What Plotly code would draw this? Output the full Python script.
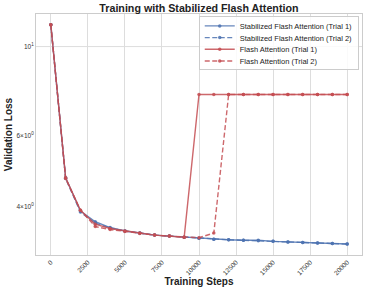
import plotly.graph_objects as go

steps = [0, 1000, 2000, 3000, 4000, 5000, 6000, 7000, 8000, 9000, 10000,
         11000, 12000, 13000, 14000, 15000, 16000, 17000, 18000, 19000, 20000]
stab_t1 = [11.33, 4.72, 3.90, 3.67, 3.55, 3.48, 3.44, 3.40, 3.38, 3.36, 3.34,
           3.32, 3.31, 3.30, 3.30, 3.28, 3.27, 3.26, 3.25, 3.24, 3.23]
stab_t2 = [11.33, 4.70, 3.88, 3.64, 3.54, 3.48, 3.44, 3.40, 3.38, 3.36, 3.34,
           3.32, 3.31, 3.30, 3.29, 3.28, 3.27, 3.26, 3.25, 3.24, 3.23]
flash_t1 = [11.33, 4.72, 3.92, 3.62, 3.53, 3.48, 3.44, 3.40, 3.38, 3.36, 7.6,
            7.6, 7.6, 7.6, 7.6, 7.6, 7.6, 7.6, 7.6, 7.6, 7.6]
flash_t2 = [11.33, 4.70, 3.92, 3.57, 3.51, 3.47, 3.43, 3.40, 3.38, 3.36, 3.35,
            3.44, 7.6, 7.6, 7.6, 7.6, 7.6, 7.6, 7.6, 7.6, 7.6]

x_ticks = [0, 2500, 5000, 7500, 10000, 12500, 15000, 17500, 20000]
x_tick_text = [str(v) for v in x_ticks]
y_ticks = [4, 6, 10]
y_tick_text = ["4×10<sup>0</sup>", "6×10<sup>0</sup>", "10<sup>1</sup>"]

BLUE = "rgba(76,114,176,0.85)"
RED = "rgba(196,78,82,0.85)"
DASHED = "5px,2.5px"

series = [
    ("Stabilized Flash Attention (Trial 1)", stab_t1, BLUE, "solid"),
    ("Stabilized Flash Attention (Trial 2)", stab_t2, BLUE, DASHED),
    ("Flash Attention (Trial 1)", flash_t1, RED, "solid"),
    ("Flash Attention (Trial 2)", flash_t2, RED, DASHED),
]

fig = go.Figure()
for name, vals, col, dash in series:
    fig.add_trace(go.Scatter(
        x=steps, y=vals, name=name, mode="lines+markers",
        line=dict(color=col, width=1.4, dash=dash),
        marker=dict(color=col, size=3.5, symbol="circle"),
    ))

fig.add_hline(y=10, line=dict(color="#dddddd", width=1), layer="below")

fig.update_layout(
    width=365, height=291,
    margin=dict(l=36, r=3, t=14, b=36),
    paper_bgcolor="white", plot_bgcolor="white",
    font=dict(family="Liberation Sans, Arial, sans-serif", color="#222222"),
    title=dict(text="<b>Training with Stabilized Flash Attention</b>",
               x=0.545, xanchor="center", y=0.985, yanchor="top",
               font=dict(size=10.7, color="#222222")),
    showlegend=True,
    legend=dict(x=0.99, y=0.99, xanchor="right", yanchor="top",
                bgcolor="rgba(255,255,255,0.85)", bordercolor="#cccccc",
                borderwidth=1, font=dict(size=7.5, color="#222222"),
                tracegroupgap=0, itemwidth=30),
)
fig.update_xaxes(
    range=[-1000, 21000], tickvals=x_ticks, ticktext=x_tick_text, tickangle=-45,
    tickfont=dict(size=6.5, color="#333333"), automargin=False,
    showgrid=True, gridcolor="#dddddd", gridwidth=1,
    showline=True, linecolor="#cccccc", mirror=True, zeroline=False,
    ticks="",
    title=dict(text="<b>Training Steps</b>", font=dict(size=10), standoff=2),
)
fig.update_yaxes(
    type="log", range=[0.482, 1.081], tickvals=y_ticks, ticktext=y_tick_text,
    tickfont=dict(size=6.5, color="#333333"), automargin=False,
    showgrid=False,
    showline=True, linecolor="#cccccc", mirror=True, zeroline=False,
    ticks="",
    title=dict(text="<b>Validation Loss</b>", font=dict(size=10), standoff=2),
)

post = """
document.body.style.margin = '0';
(function(){
  var gd = document.getElementById('{plot_id}');
  var items = gd.querySelectorAll('.legend .traces');
  var step = 11.7, y0 = 9.5;
  items.forEach(function(el, i){
    var t = el.getAttribute('transform') || '';
    var m = t.match(/translate\\(([-\\d.]+)/);
    var x = m ? m[1] : '0';
    el.setAttribute('transform', 'translate(' + x + ',' + (y0 + i*step) + ')');
  });
  var bg = gd.querySelector('.legend .bg');
  if (bg) { bg.setAttribute('height', y0 + (items.length - 1)*step + 8); }
})();
"""

fig.write_html("out.html", post_script=post, config={"displayModeBar": False})
